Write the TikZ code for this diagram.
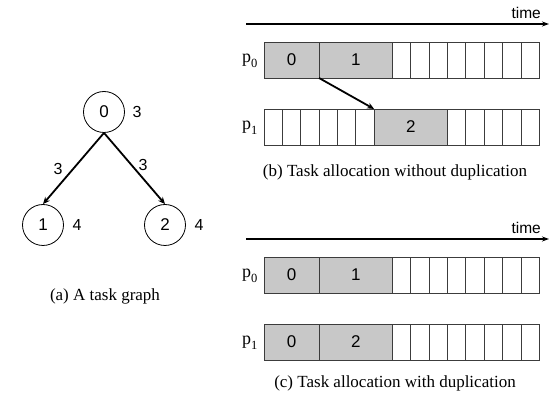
\documentclass[tikz,border=0pt]{standalone}
\usepackage{fontspec}
\setmainfont{Liberation Serif}
\setsansfont{Liberation Sans}
\usetikzlibrary{arrows.meta}
\definecolor{taskgray}{RGB}{200,200,200}
\definecolor{linegray}{RGB}{60,60,60}
\newcommand{\cw}{18.35}
\tikzset{
  gnode/.style={circle,draw=black,line width=0.8pt,minimum size=41pt,inner sep=0pt,font=\sffamily\fontsize{17}{17}\selectfont},
  wlabel/.style={font=\sffamily\fontsize{16}{16}\selectfont,inner sep=0pt},
  timelabel/.style={font=\sffamily\fontsize{15.5}{15.5}\selectfont,inner sep=0pt},
  edgearrow/.style={line width=1.8pt,-{Stealth[length=7pt,width=6pt]}},
  cellbox/.style={draw=linegray,line width=0.8pt,fill=white},
  taskbox/.style={draw=linegray,line width=0.8pt,fill=taskgray,anchor=north west,inner sep=0pt,outer sep=0pt,minimum height=36pt,font=\sffamily\fontsize{17}{17}\selectfont},
  timeaxis/.style={line width=1.2pt,-{Stealth[length=7pt,width=5pt]}},
  caption/.style={font=\rmfamily\fontsize{17}{17}\selectfont,inner sep=0pt},
  plabel/.style={font=\rmfamily\fontsize{18}{18}\selectfont,inner sep=0pt}
}
\newcommand{\psub}[1]{p\raisebox{-4.5pt}{\fontsize{12.5}{12.5}\selectfont #1}}
\begin{document}
\begin{tikzpicture}[x=1pt,y=-1pt]
\useasboundingbox (0,0) rectangle (550,398);
% (a) task graph
\node[gnode] (n0) at (104,112) {0};
\node[gnode] (n1) at (43,225) {1};
\node[gnode] (n2) at (165,225) {2};
\node[wlabel] (w0) at (137,112) {3};
\node[wlabel] (w1) at (77,225) {4};
\node[wlabel] (w2) at (199,225) {4};
\draw[edgearrow] (n0.south) -- (n1.north);
\draw[edgearrow] (n0.south) -- (n2.north);
\node[wlabel] (e1) at (58,169) {3};
\node[wlabel] (e2) at (143,165) {3};
\node[caption] (capa) at (105,296) {(a) A task graph};
% (b) without duplication
\coordinate (tb0) at (246,24);
\coordinate (tb1) at (549,24);
\draw[timeaxis] (tb0) -- (tb1);
\node[timelabel,anchor=base east] (timeb) at (541,19) {time};
\node[plabel,anchor=base west] (pb0) at (242,63) {\psub{0}};
\node[plabel,anchor=base west] (pb1) at (242,130) {\psub{1}};
\foreach \i in {7,...,14} {\draw[cellbox] (264+\i*\cw,42) rectangle ++(\cw,36);}
\node[taskbox,minimum width=3*\cw pt] (b00) at (264,42) {0};
\node[taskbox,minimum width=4*\cw pt] (b01) at (264+3*\cw,42) {1};
\foreach \i in {0,...,5} {\draw[cellbox] (264+\i*\cw,109) rectangle ++(\cw,36);}
\foreach \i in {10,...,14} {\draw[cellbox] (264+\i*\cw,109) rectangle ++(\cw,36);}
\node[taskbox,minimum width=4*\cw pt] (b12) at (264+6*\cw,109) {2};
\draw[edgearrow] (b00.south east) -- (b12.north west);
\node[caption] (capb) at (395,172) {(b) Task allocation without duplication};
% (c) with duplication
\coordinate (tc0) at (246,239);
\coordinate (tc1) at (549,239);
\draw[timeaxis] (tc0) -- (tc1);
\node[timelabel,anchor=base east] (timec) at (541,234) {time};
\node[plabel,anchor=base west] (pc0) at (242,278) {\psub{0}};
\node[plabel,anchor=base west] (pc1) at (242,345) {\psub{1}};
\foreach \i in {7,...,14} {\draw[cellbox] (264+\i*\cw,257) rectangle ++(\cw,36);}
\node[taskbox,minimum width=3*\cw pt] (c00) at (264,257) {0};
\node[taskbox,minimum width=4*\cw pt] (c01) at (264+3*\cw,257) {1};
\foreach \i in {7,...,14} {\draw[cellbox] (264+\i*\cw,324) rectangle ++(\cw,36);}
\node[taskbox,minimum width=3*\cw pt] (c10) at (264,324) {0};
\node[taskbox,minimum width=4*\cw pt] (c12) at (264+3*\cw,324) {2};
\node[caption] (capc) at (395,383) {(c) Task allocation with duplication};
\end{tikzpicture}
\end{document}
